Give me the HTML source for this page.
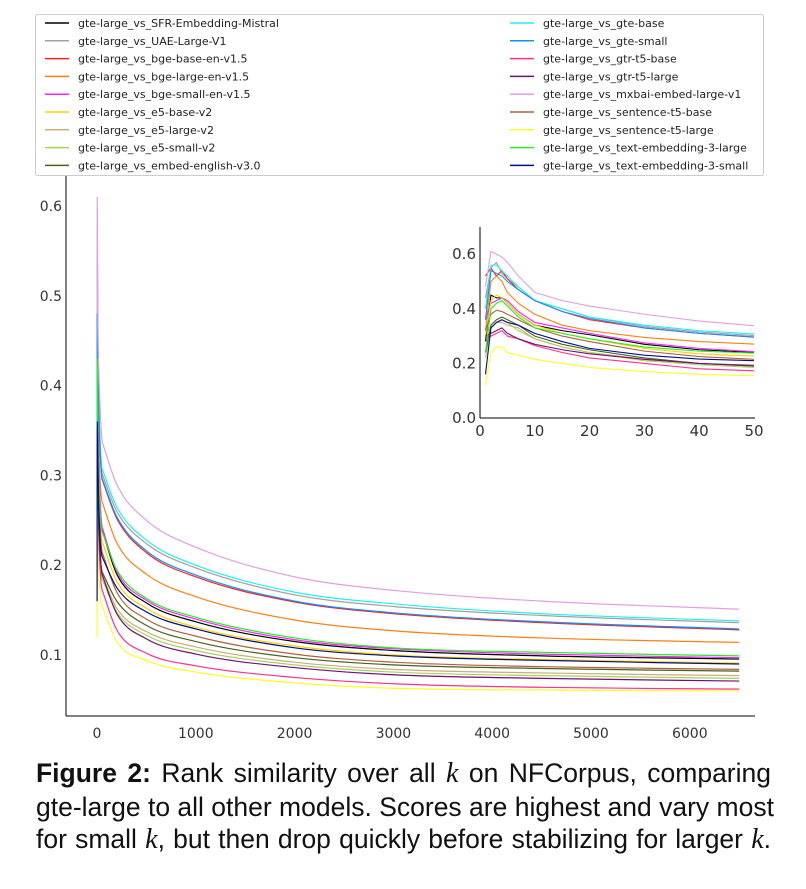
<!DOCTYPE html>
<html><head><meta charset="utf-8"><style>
body{margin:0;background:#fff;width:806px;height:889px;overflow:hidden;position:relative}
svg{position:absolute;left:0;top:0}
.cap{position:absolute;left:36px;top:757px;width:735px;font-family:"Liberation Sans",sans-serif;font-size:26.5px;line-height:32.5px;color:#111}
.cap div{text-align:justify;text-align-last:justify;white-space:nowrap}
.cap i{font-family:"Liberation Serif",serif;font-size:28px}
</style></head><body>
<svg id="chart" width="806" height="750" font-family="DejaVu Sans, sans-serif"></svg>
<div class="cap"><div><b>Figure 2:</b> Rank similarity over all <i>k</i> on NFCorpus, comparing</div><div>gte-large to all other models. Scores are highest and vary most</div><div>for small <i>k</i>, but then drop quickly before stabilizing for larger <i>k</i>.</div></div>
<script>
const kValues=[1,2,3,4,5,7,10,15,20,30,40,50,200,500,1000,2000,3000,4500,6500];
const seriesNames=["gte-large_vs_SFR-Embedding-Mistral","gte-large_vs_UAE-Large-V1","gte-large_vs_bge-base-en-v1.5","gte-large_vs_bge-large-en-v1.5","gte-large_vs_bge-small-en-v1.5","gte-large_vs_e5-base-v2","gte-large_vs_e5-large-v2","gte-large_vs_e5-small-v2","gte-large_vs_embed-english-v3.0","gte-large_vs_gte-base","gte-large_vs_gte-small","gte-large_vs_gtr-t5-base","gte-large_vs_gtr-t5-large","gte-large_vs_mxbai-embed-large-v1","gte-large_vs_sentence-t5-base","gte-large_vs_sentence-t5-large","gte-large_vs_text-embedding-3-large","gte-large_vs_text-embedding-3-small"];
const seriesColors=["#000000","#a0a0a0","#ff2020","#ff8010","#ff20ff","#ffd000","#c8b078","#a8d060","#4a6020","#20f0f0","#1090ff","#ff3090","#701070","#e0a0e0","#b06040","#ffff20","#20f020","#001080"];
const sSFR=[0.28,0.45,0.44,0.44,0.42,0.38,0.34,0.32,0.305,0.27,0.25,0.24,0.19,0.158,0.137,0.115,0.105,0.099,0.0955];
const sUAE=[0.44,0.55,0.57,0.53,0.51,0.48,0.43,0.40,0.37,0.335,0.315,0.302,0.26,0.224,0.197,0.167,0.154,0.144,0.136];
const sBgeBase=[0.52,0.55,0.52,0.54,0.51,0.47,0.43,0.39,0.36,0.33,0.31,0.296,0.252,0.214,0.187,0.159,0.146,0.136,0.128];
const sBgeLarge=[0.32,0.50,0.52,0.50,0.46,0.42,0.38,0.34,0.32,0.295,0.28,0.271,0.225,0.19,0.165,0.139,0.127,0.119,0.114];
const sBgeSmall=[0.36,0.42,0.43,0.44,0.43,0.39,0.35,0.33,0.31,0.275,0.255,0.243,0.193,0.161,0.140,0.117,0.107,0.101,0.097];
const sE5Base=[0.30,0.43,0.45,0.44,0.42,0.38,0.34,0.31,0.29,0.255,0.235,0.227,0.182,0.152,0.131,0.110,0.100,0.095,0.091];
const sE5Large=[0.22,0.33,0.35,0.35,0.34,0.33,0.29,0.26,0.24,0.215,0.20,0.19,0.152,0.126,0.109,0.092,0.084,0.080,0.077];
const sE5Small=[0.24,0.33,0.35,0.36,0.35,0.32,0.29,0.26,0.24,0.21,0.195,0.185,0.148,0.122,0.105,0.089,0.081,0.077,0.074];
const sEmbedEn=[0.24,0.34,0.36,0.37,0.36,0.34,0.30,0.27,0.25,0.22,0.20,0.193,0.160,0.133,0.115,0.097,0.089,0.085,0.082];
const sGteBase=[0.40,0.56,0.56,0.54,0.52,0.48,0.43,0.40,0.37,0.34,0.32,0.308,0.265,0.228,0.200,0.170,0.157,0.146,0.138];
const sGteSmall=[0.36,0.54,0.53,0.52,0.50,0.47,0.43,0.39,0.365,0.33,0.31,0.297,0.254,0.216,0.189,0.160,0.147,0.137,0.129];
const sGtrBase=[0.28,0.30,0.31,0.32,0.30,0.29,0.265,0.24,0.22,0.20,0.18,0.173,0.128,0.102,0.088,0.075,0.068,0.064,0.062];
const sGtrLarge=[0.30,0.31,0.32,0.33,0.31,0.29,0.27,0.25,0.235,0.215,0.20,0.19,0.146,0.118,0.101,0.086,0.078,0.074,0.071];
const sMxbai=[0.48,0.61,0.60,0.59,0.57,0.52,0.46,0.43,0.41,0.38,0.355,0.338,0.29,0.25,0.22,0.187,0.172,0.160,0.151];
const sSt5Base=[0.32,0.38,0.395,0.39,0.38,0.36,0.33,0.30,0.28,0.245,0.225,0.215,0.170,0.140,0.121,0.101,0.092,0.087,0.084];
const sSt5Large=[0.12,0.24,0.26,0.26,0.24,0.23,0.215,0.20,0.185,0.17,0.16,0.155,0.115,0.094,0.081,0.069,0.063,0.061,0.060];
const sTe3Large=[0.24,0.40,0.42,0.43,0.41,0.37,0.33,0.31,0.29,0.26,0.245,0.238,0.195,0.163,0.142,0.119,0.108,0.103,0.099];
const sTe3Small=[0.16,0.33,0.35,0.36,0.35,0.34,0.31,0.28,0.255,0.23,0.216,0.210,0.175,0.148,0.129,0.108,0.099,0.094,0.090];
const seriesValues=[sSFR,sUAE,sBgeBase,sBgeLarge,sBgeSmall,sE5Base,sE5Large,sE5Small,sEmbedEn,sGteBase,sGteSmall,sGtrBase,sGtrLarge,sMxbai,sSt5Base,sSt5Large,sTe3Large,sTe3Small];
const mainXTicks=[0,1000,2000,3000,4000,5000,6000];
const mainYTicks=[0.1,0.2,0.3,0.4,0.5,0.6];
const insetXTicks=[0,10,20,30,40,50];
const insetYTicks=[0.0,0.2,0.4,0.6];

const NS="http://www.w3.org/2000/svg";
const svg=document.getElementById('chart');
function mk(tag,attrs,parent){const e=document.createElementNS(NS,tag);for(const k in attrs)e.setAttribute(k,attrs[k]);(parent||svg).appendChild(e);return e;}
function monoPath(xs,ys){const n=xs.length;if(n<3){return xs.map((x,i)=>(i?'L':'M')+x+' '+ys[i]).join(' ');}
const d=[],m=[];for(let i=0;i<n-1;i++)d.push((ys[i+1]-ys[i])/(xs[i+1]-xs[i]||1e-6));
m[0]=d[0];m[n-1]=d[n-2];for(let i=1;i<n-1;i++){m[i]=(d[i-1]*d[i]<=0)?0:(d[i-1]+d[i])/2;}
for(let i=0;i<n-1;i++){if(d[i]===0){m[i]=0;m[i+1]=0;continue;}const a=m[i]/d[i],b=m[i+1]/d[i],s=a*a+b*b;if(s>9){const t=3/Math.sqrt(s);m[i]=t*a*d[i];m[i+1]=t*b*d[i];}}
let p='M'+xs[0].toFixed(2)+' '+ys[0].toFixed(2);
for(let i=0;i<n-1;i++){const h=(xs[i+1]-xs[i])/3;p+=' C'+(xs[i]+h).toFixed(2)+' '+(ys[i]+m[i]*h).toFixed(2)+' '+(xs[i+1]-h).toFixed(2)+' '+(ys[i+1]-m[i+1]*h).toFixed(2)+' '+xs[i+1].toFixed(2)+' '+ys[i+1].toFixed(2);}
return p;}
const mx=k=>97+k*0.0988, my=v=>655-(v-0.1)*898;
const ix=k=>480+k*5.48, iy=v=>418-v*273;
const mainG=mk('g',{});


let l=mk('line',{x1:66,y1:165,x2:66,y2:716,stroke:'#000','stroke-width':1},mainG);


l=mk('line',{x1:66,y1:716,x2:755,y2:716,stroke:'#000','stroke-width':1},mainG);


mainXTicks.forEach(t=>{const e=mk('text',{x:mx(t),y:738,'text-anchor':'middle','font-size':14,fill:'#333'},mainG);e.textContent=t;

});
mainYTicks.forEach(t=>{const e=mk('text',{x:62,y:my(t)+5,'text-anchor':'end','font-size':14,fill:'#333'},mainG);e.textContent=t.toFixed(1);

});
seriesValues.forEach((vals,i)=>{
const d=vals.map((v,j)=>(j?'L':'M')+mx(kValues[j]).toFixed(2)+' '+my(v).toFixed(2)).slice(0,12).join(' ');
const tailIdx=[];for(let j=11;j<vals.length;j++)tailIdx.push(j);
const tail=monoPath(tailIdx.map(j=>mx(kValues[j])),tailIdx.map(j=>my(vals[j]))).replace(/^M[^C]*/,'');
const p=mk('path',{d:d+' '+tail,fill:'none',stroke:seriesColors[i],'stroke-width':1.2},mainG);

});
const inG=mk('g',{});


mk('rect',{x:470,y:222,width:300,height:200,fill:'#fff'},inG);
l=mk('line',{x1:480,y1:227,x2:480,y2:418,stroke:'#000','stroke-width':1},inG);


l=mk('line',{x1:480,y1:418,x2:755,y2:418,stroke:'#000','stroke-width':1},inG);


insetXTicks.forEach(t=>{const e=mk('text',{x:ix(t),y:436,'text-anchor':'middle','font-size':15,fill:'#333'},inG);e.textContent=t;

});
insetYTicks.forEach(t=>{const e=mk('text',{x:476,y:iy(t)+5,'text-anchor':'end','font-size':15,fill:'#333'},inG);e.textContent=t.toFixed(1);

});
seriesValues.forEach((vals,i)=>{const pts=[];vals.forEach((v,j)=>{if(kValues[j]<=50)pts.push((pts.length?'L':'M')+ix(kValues[j]).toFixed(2)+' '+iy(v).toFixed(2));});
const p=mk('path',{d:pts.join(' '),fill:'none',stroke:seriesColors[i],'stroke-width':1.1},inG);

});
const lg=mk('g',{});


mk('rect',{x:35.5,y:14.5,width:728,height:161,rx:2,fill:'#fff',stroke:'#ccc'},lg);
seriesNames.forEach((n,i)=>{const col=i<9?0:1,row=i%9;const x0=col?510:45,y0=23+row*17.8;
const ln=mk('line',{x1:x0,y1:y0,x2:x0+24,y2:y0,stroke:seriesColors[i],'stroke-width':1.5},lg);


const t=mk('text',{x:x0+33,y:y0+4,'font-size':11,fill:'#222'},lg);t.textContent=n;

});
</script>
</body></html>
